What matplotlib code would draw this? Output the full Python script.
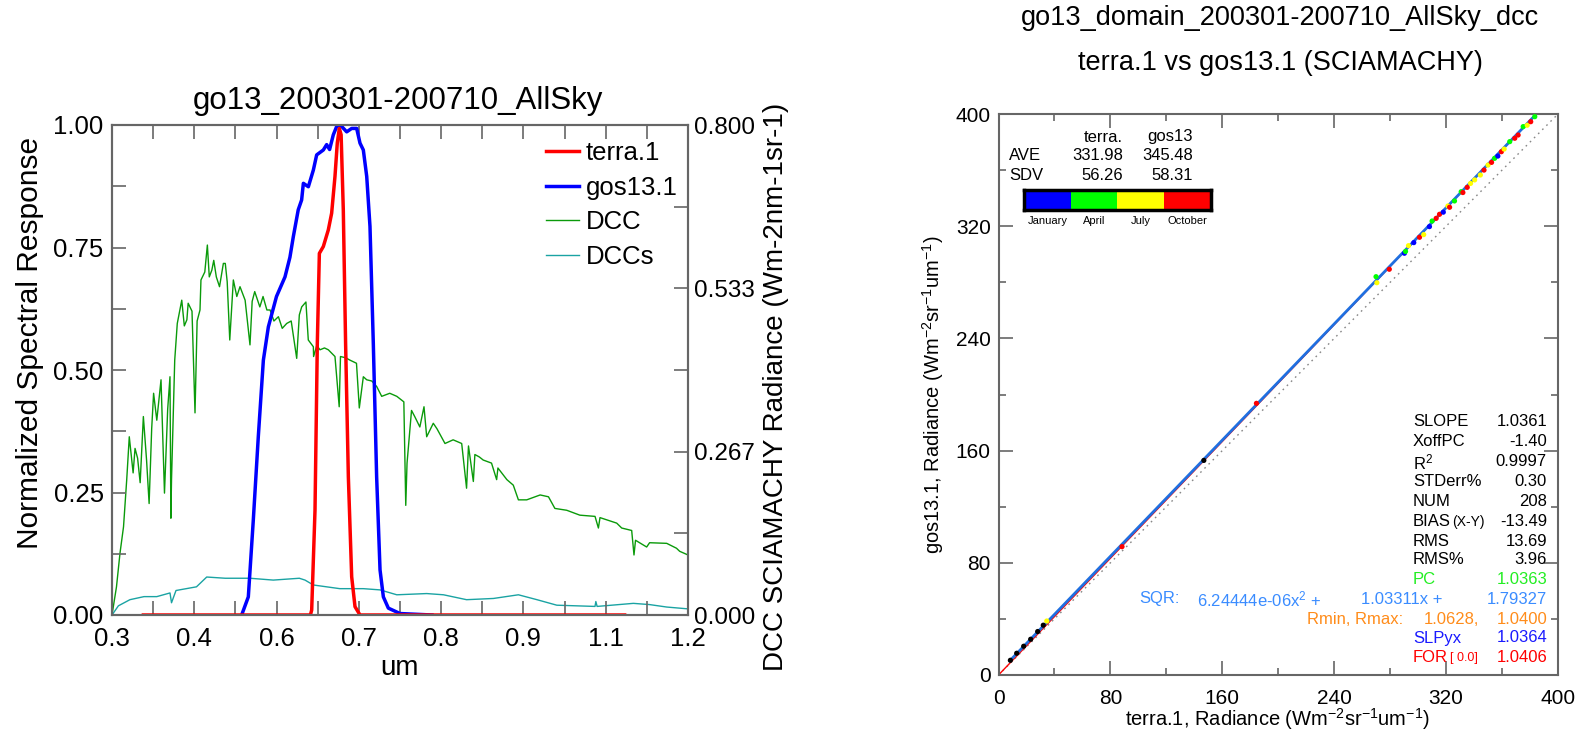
import matplotlib.pyplot as plt
import numpy as np
from matplotlib.colors import ListedColormap

plt.rcParams['font.family'] = ['Liberation Sans', 'DejaVu Sans']
plt.rcParams['mathtext.fontset'] = 'custom'
plt.rcParams['mathtext.rm'] = 'Liberation Sans'
plt.rcParams['mathtext.it'] = 'Liberation Sans'
plt.rcParams['mathtext.default'] = 'regular'

# ---------------- left panel: spectral response + DCC radiance ----------------
terra_wl = [0.349, 0.610, 0.612, 0.6172, 0.6208, 0.624, 0.6302, 0.638, 0.6432, 0.6484,
            0.652, 0.6552, 0.658, 0.6614, 0.665, 0.6693, 0.6745, 0.6797, 0.6875, 1.101]
terra_resp = [0.000, 0.000, 0.010, 0.214, 0.554, 0.738, 0.752, 0.786, 0.820, 0.895,
              0.963, 0.993, 0.980, 0.827, 0.554, 0.282, 0.078, 0.017, 0.000, 0.000]

gos_wl = [0.5026, 0.513, 0.5208, 0.5286, 0.5365, 0.5443, 0.557, 0.5703, 0.578, 0.5833,
          0.591, 0.5963, 0.599, 0.6068, 0.6146, 0.6198, 0.6302, 0.6354, 0.640, 0.6458,
          0.652, 0.6589, 0.6667, 0.6745, 0.6823, 0.6875, 0.6927, 0.698, 0.7031, 0.7083,
          0.7135, 0.7188, 0.724, 0.7318, 0.750, 0.800]
gos_resp = [0.000, 0.037, 0.194, 0.364, 0.520, 0.588, 0.650, 0.690, 0.730, 0.772,
            0.827, 0.847, 0.881, 0.874, 0.908, 0.939, 0.949, 0.960, 0.950, 0.980,
            1.000, 0.997, 0.986, 0.993, 0.993, 0.963, 0.949, 0.895, 0.793, 0.554,
            0.282, 0.092, 0.037, 0.014, 0.003, 0.000]

dcc_wl = [0.300, 0.307, 0.3125, 0.318, 0.323, 0.3255, 0.327, 0.333, 0.336, 0.340,
          0.344, 0.349, 0.354, 0.358, 0.362, 0.365, 0.370, 0.3766, 0.382, 0.387,
          0.3906, 0.392, 0.393, 0.398, 0.402, 0.409, 0.413, 0.417, 0.419, 0.425,
          0.4297, 0.433, 0.4375, 0.439, 0.445, 0.449, 0.452, 0.456, 0.459, 0.463,
          0.468, 0.474, 0.477, 0.480, 0.484, 0.4896, 0.495, 0.500, 0.508, 0.5156,
          0.519, 0.523, 0.531, 0.536, 0.542, 0.547, 0.553, 0.560, 0.566, 0.573,
          0.580, 0.5886, 0.5927, 0.5964, 0.603, 0.6067, 0.6146, 0.615, 0.620, 0.625,
          0.632, 0.638, 0.6484, 0.655, 0.657, 0.665, 0.672, 0.682, 0.6864, 0.6927,
          0.698, 0.706, 0.7136, 0.7214, 0.734, 0.745, 0.756, 0.759, 0.761, 0.768,
          0.773, 0.781, 0.7875, 0.7917, 0.802, 0.8078, 0.8203, 0.833, 0.8464, 0.854,
          0.857, 0.8646, 0.867, 0.874, 0.880, 0.893, 0.901, 0.903, 0.917, 0.927,
          0.935, 0.948, 0.969, 0.982, 0.992, 1.0105, 1.031, 1.0547, 1.060, 1.0625,
          1.0886, 1.0964, 1.112, 1.1156, 1.118, 1.1354, 1.140, 1.1667, 1.182, 1.187,
          1.200]
dcc_rad = [0.000, 0.046, 0.101, 0.144, 0.221, 0.264, 0.291, 0.232, 0.272, 0.256,
           0.216, 0.324, 0.253, 0.182, 0.304, 0.362, 0.318, 0.384, 0.199, 0.336,
           0.389, 0.158, 0.221, 0.416, 0.476, 0.514, 0.472, 0.482, 0.509, 0.496,
           0.330, 0.480, 0.498, 0.547, 0.560, 0.604, 0.552, 0.563, 0.579, 0.552,
           0.536, 0.574, 0.574, 0.544, 0.449, 0.547, 0.520, 0.536, 0.514, 0.441,
           0.512, 0.528, 0.503, 0.520, 0.498, 0.498, 0.480, 0.487, 0.468, 0.476,
           0.480, 0.419, 0.490, 0.503, 0.511, 0.449, 0.438, 0.422, 0.440, 0.433,
           0.436, 0.433, 0.422, 0.340, 0.422, 0.420, 0.416, 0.411, 0.338, 0.389,
           0.384, 0.382, 0.373, 0.357, 0.362, 0.357, 0.348, 0.179, 0.248, 0.334,
           0.324, 0.307, 0.340, 0.291, 0.313, 0.304, 0.280, 0.286, 0.280, 0.207,
           0.276, 0.218, 0.262, 0.258, 0.253, 0.248, 0.221, 0.240, 0.221, 0.212,
           0.188, 0.188, 0.196, 0.193, 0.174, 0.171, 0.163, 0.161, 0.142, 0.159,
           0.150, 0.142, 0.138, 0.098, 0.122, 0.111, 0.118, 0.117, 0.109, 0.104,
           0.098]

dccs_wl = [0.300, 0.310, 0.328, 0.350, 0.370, 0.3906, 0.393, 0.400, 0.432, 0.448,
           0.477, 0.5156, 0.552, 0.5927, 0.6016, 0.6146, 0.656, 0.6927, 0.71875, 0.745,
           0.7917, 0.818, 0.854, 0.896, 0.935, 0.964, 0.995, 1.0547, 1.056, 1.058,
           1.1146, 1.140, 1.1667, 1.200]
dccs_rad = [0.000, 0.015, 0.025, 0.030, 0.030, 0.036, 0.020, 0.040, 0.046, 0.062,
            0.060, 0.060, 0.057, 0.060, 0.057, 0.049, 0.043, 0.043, 0.041, 0.033,
            0.035, 0.033, 0.025, 0.027, 0.033, 0.025, 0.016, 0.014, 0.022, 0.014,
            0.019, 0.017, 0.013, 0.010]

# ---------------- right panel: scatter terra vs gos13 ----------------
# month code: 0 = other (black), 1 Jan, 2 Apr, 3 Jul, 4 Oct
sc_x = [8.5, 13, 18, 23, 28, 32, 34.5, 88.3, 146.8, 184.4,
        269.9, 270.5, 279.4, 290.2, 291.0, 293.1, 296.9, 301.0, 304.0, 308.1,
        310.0, 312.9, 315.3, 318.0, 321.3, 322.5, 326.0, 330.8, 332.0, 335.1,
        337.5, 340.4, 344.5, 347.1, 350.0, 352.5, 354.7, 357.0, 359.5, 361.5,
        365.5, 369.1, 371.5, 375.1, 378.0, 380.5, 383.4]
sc_y = [10.5, 15.5, 20.5, 25.5, 31.0, 35.5, 38.5, 91.5, 153.0, 193.7,
        284.0, 279.7, 289.3, 300.7, 302.0, 306.1, 308.3, 312.1, 314.0, 319.7,
        323.7, 325.6, 328.5, 330.0, 334.4, 333.5, 338.0, 344.6, 344.0, 347.7,
        350.5, 353.0, 356.5, 360.0, 363.6, 365.5, 368.4, 370.0, 373.1, 375.0,
        380.3, 382.7, 385.0, 391.0, 392.0, 394.5, 398.1]
sc_mon = [0, 0, 0, 0, 0, 0, 3, 4, 0, 4,
          2, 3, 4, 1, 2, 3, 1, 4, 3, 1,
          2, 4, 4, 1, 3, 4, 2, 2, 4, 4,
          3, 3, 3, 4, 3, 4, 2, 1, 4, 3,
          2, 4, 4, 2, 3, 4, 2]
month_colors = ['black', '#0000ff', '#00ff00', '#ffff00', '#ff0000']
month_names = ['January', 'April', 'July', 'October']

sqr_coef = [6.24444e-06, 1.03311, 1.79327]
for_slope = 1.0406
fit_xrange = [8.0, 386.0]

stat_names = ['SLOPE', 'XoffPC', 'R$^{2}$', 'STDerr%', 'NUM', 'BIAS', 'RMS', 'RMS%']
stat_values = ['1.0361', '-1.40', '0.9997', '0.30', '208', '-13.49', '13.69', '3.96']

W, H = 1585, 730
fig = plt.figure(figsize=(W / 100, H / 100), dpi=100)


def box(x0, y0, x1, y1):
    return [x0 / W, 1 - y1 / H, (x1 - x0) / W, (y1 - y0) / H]


def fx(px):
    return px / W


def fy(py):
    return 1 - py / H


spine_col = '#666666'

# ---- left ----
ax = fig.add_axes(box(112, 125, 688, 615))
ax2 = ax.twinx()
ax.set_zorder(ax2.get_zorder() + 1)
ax.patch.set_visible(False)

l3, = ax2.plot(dcc_wl, dcc_rad, color='#0a9a0a', lw=1.0)
l4, = ax2.plot(dccs_wl, dccs_rad, color='#1aa3a3', lw=1.0)
l2, = ax.plot(gos_wl, gos_resp, color='#0000ff', lw=2.5)
l1, = ax.plot(terra_wl, terra_resp, color='#ff0000', lw=2.5)

ax.set_xlim(0.3, 1.2)
ax.set_ylim(0, 1.0)
ax2.set_ylim(0, 0.8)
xt = np.linspace(0.3, 1.2, 8)
ax.set_xticks(xt)
ax.set_xticklabels(['%.1f' % v for v in xt])
ax.set_xticks(np.linspace(0.3, 1.2, 15), minor=True)
ax.set_yticks([0, 0.25, 0.5, 0.75, 1.0])
ax.set_yticklabels(['0.00', '0.25', '0.50', '0.75', '1.00'])
ax.set_yticks(np.linspace(0, 1, 9), minor=True)
yt2 = np.linspace(0, 0.8, 4)
ax2.set_yticks(yt2)
ax2.set_yticklabels(['%.3f' % v for v in yt2])
ax2.set_yticks(np.linspace(0, 0.8, 7), minor=True)

ax.tick_params(axis='both', which='both', direction='in', length=10, width=1.2,
               color=spine_col, labelsize=18.5, top=True, right=False)
ax.tick_params(axis='x', pad=9)
ax.tick_params(axis='y', pad=6)
ax2.tick_params(axis='y', which='both', direction='in', length=10, width=1.2,
                color=spine_col, labelsize=17.5, pad=4)
for a in (ax, ax2):
    for s in a.spines.values():
        s.set_color(spine_col)
        s.set_linewidth(1.5)

ax.legend([l1, l2, l3, l4], ['terra.1', 'gos13.1', 'DCC', 'DCCs'],
          loc='upper left', bbox_to_anchor=(fx(533), fy(128)),
          bbox_transform=fig.transFigure, frameon=False, fontsize=18.5,
          handlelength=1.3, handletextpad=0.25, labelspacing=0.42, borderpad=0)

fig.text(fx(398), fy(101), 'go13_200301-200710_AllSky', ha='center', va='center', fontsize=22.5)
fig.text(fx(400), fy(668), 'um', ha='center', va='center', fontsize=20)
fig.text(fx(30), fy(343), 'Normalized Spectral Response', rotation=90,
         ha='center', va='center', fontsize=21.5)
fig.text(fx(776), fy(387), 'DCC SCIAMACHY Radiance (Wm-2nm-1sr-1)', rotation=90,
         ha='center', va='center', fontsize=20)

# ---- right ----
bx = fig.add_axes(box(998.5, 114, 1558, 675))
bx.set_xlim(0, 400)
bx.set_ylim(0, 400)
bx.plot([0, 400], [0, 400], color='#888888', lw=1, ls=(0, (1.2, 3)))
bx.plot([0, 400 / for_slope], [0, 400], color='#ff0000', lw=1)
fx_line = np.array(fit_xrange)
fy_line = sqr_coef[0] * fx_line ** 2 + sqr_coef[1] * fx_line + sqr_coef[2]
bx.plot(fx_line, fy_line, color='#1f6fe0', lw=2)
bx.scatter(sc_x, sc_y, c=[month_colors[m] for m in sc_mon], s=14, edgecolors='none', zorder=3)

bx.set_xticks(np.arange(0, 401, 80))
bx.set_yticks(np.arange(0, 401, 80))
bx.set_xticks(np.arange(0, 401, 40), minor=True)
bx.set_yticks(np.arange(0, 401, 40), minor=True)
bx.tick_params(axis='both', which='major', direction='in', length=10, width=1.2,
               color=spine_col, labelsize=15, top=True, right=True)
bx.tick_params(axis='both', which='minor', direction='in', length=5, width=1.2,
               color=spine_col, top=True, right=True)
bx.tick_params(axis='x', pad=10)
bx.tick_params(axis='y', pad=5.5)
for s in bx.spines.values():
    s.set_color(spine_col)
    s.set_linewidth(1.5)

fig.text(fx(1280), fy(18), 'go13_domain_200301-200710_AllSky_dcc', ha='center', va='center', fontsize=19.5)
fig.text(fx(1280), fy(63), 'terra.1 vs gos13.1 (SCIAMACHY)', ha='center', va='center', fontsize=19.5)
fig.text(fx(1277), fy(719), r'terra.1, Radiance (Wm$^{-2}$sr$^{-1}$um$^{-1}$)',
         ha='center', va='center', fontsize=14.5)
fig.text(fx(933), fy(395), r'gos13.1, Radiance (Wm$^{-2}$sr$^{-1}$um$^{-1}$)', rotation=90,
         ha='center', va='center', fontsize=14.5)

# mean / stdev box
fs = 12
fig.text(fx(1123), fy(137), 'terra.', ha='right', va='center', fontsize=fs)
fig.text(fx(1193), fy(137), 'gos13', ha='right', va='center', fontsize=fs)
fig.text(fx(1009), fy(156), 'AVE', ha='left', va='center', fontsize=fs)
fig.text(fx(1123), fy(156), '331.98', ha='right', va='center', fontsize=fs)
fig.text(fx(1193), fy(156), '345.48', ha='right', va='center', fontsize=fs)
fig.text(fx(1009), fy(175), 'SDV', ha='left', va='center', fontsize=fs)
fig.text(fx(1123), fy(175), '56.26', ha='right', va='center', fontsize=fs)
fig.text(fx(1193), fy(175), '58.31', ha='right', va='center', fontsize=fs)

cax = fig.add_axes(box(1024, 190, 1211, 210))
cax.imshow([[0, 1, 2, 3]], cmap=ListedColormap(month_colors[1:]), aspect='auto')
cax.set_xticks([])
cax.set_yticks([])
for s in cax.spines.values():
    s.set_linewidth(2.5)
    s.set_color('black')
for i, name in enumerate(month_names):
    fig.text(fx(1024 + (i + 0.5) * 187 / 4), fy(221), name, ha='center', va='center', fontsize=8)

# statistics block
lab_x, val_x = 1413, 1547
row_y = [422, 442, 462, 481, 501, 521, 541, 560]
for name, val, yy in zip(stat_names, stat_values, row_y):
    fig.text(fx(lab_x), fy(yy), name, ha='left', va='center', fontsize=fs)
    fig.text(fx(val_x), fy(yy), val, ha='right', va='center', fontsize=fs)
fig.text(fx(1452), fy(522), '(X-Y)', ha='left', va='center', fontsize=10)

c_pc, c_sqr, c_rm, c_slp, c_for = '#22ee22', '#3a8cff', '#ff8c1a', '#1a1aff', '#ff0000'
fig.text(fx(lab_x), fy(579), 'PC', ha='left', va='center', fontsize=fs, color=c_pc)
fig.text(fx(val_x), fy(579), '1.0363', ha='right', va='center', fontsize=fs, color=c_pc)
fig.text(fx(1139), fy(599), 'SQR:', ha='left', va='center', fontsize=fs, color=c_sqr)
fig.text(fx(1197), fy(599), r'6.24444e-06x$^{2}$ +', ha='left', va='center', fontsize=fs, color=c_sqr)
fig.text(fx(1361), fy(599), '1.03311x +', ha='left', va='center', fontsize=fs, color=c_sqr)
fig.text(fx(val_x), fy(599), '1.79327', ha='right', va='center', fontsize=fs, color=c_sqr)
fig.text(fx(1307), fy(619), 'Rmin, Rmax:', ha='left', va='center', fontsize=fs, color=c_rm)
fig.text(fx(1424), fy(619), '1.0628,', ha='left', va='center', fontsize=fs, color=c_rm)
fig.text(fx(val_x), fy(619), '1.0400', ha='right', va='center', fontsize=fs, color=c_rm)
fig.text(fx(lab_x), fy(638), 'SLPyx', ha='left', va='center', fontsize=fs, color=c_slp)
fig.text(fx(val_x), fy(638), '1.0364', ha='right', va='center', fontsize=fs, color=c_slp)
fig.text(fx(lab_x), fy(658), 'FOR', ha='left', va='center', fontsize=fs, color=c_for)
fig.text(fx(1450), fy(658), '[ 0.0]', ha='left', va='center', fontsize=9, color=c_for)
fig.text(fx(val_x), fy(658), '1.0406', ha='right', va='center', fontsize=fs, color=c_for)

fig.savefig('out.png', dpi=100)
